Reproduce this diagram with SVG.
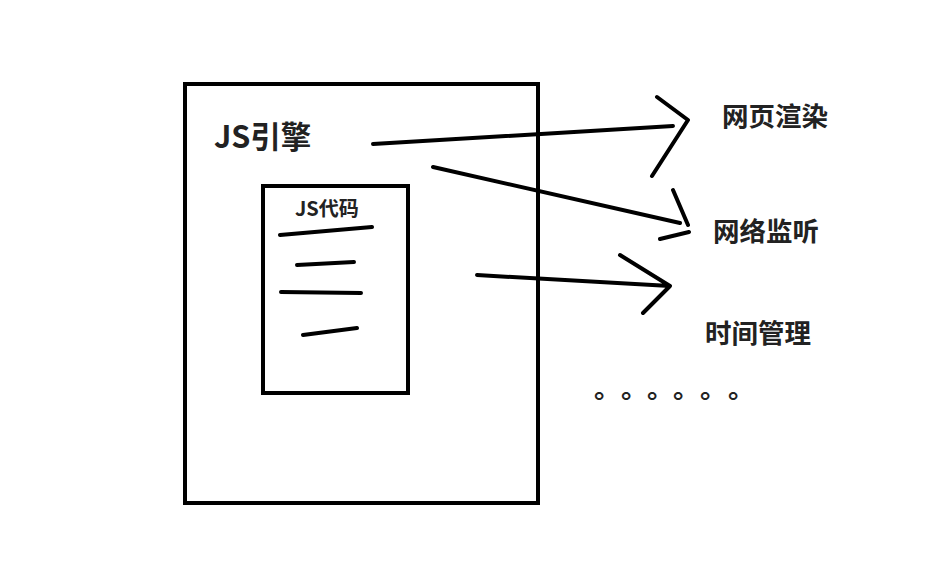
<svg xmlns="http://www.w3.org/2000/svg" width="931" height="563" viewBox="0 0 931 563">
<style>
.box{fill:none;stroke:#000;stroke-width:4}
.ln{fill:none;stroke:#000;stroke-width:4;stroke-linecap:round;stroke-linejoin:round}
.t{font-family:"Noto Sans CJK SC","Noto Sans",sans-serif;font-weight:bold;fill:#222}
</style>
<rect width="931" height="563" fill="#fff"/>
<g id="engine">
<rect class="box" x="185" y="84" width="353" height="419"/>
<text class="t" x="214" y="148" font-size="30.5">JS引擎</text>
</g>
<g id="code">
<rect class="box" x="263" y="186" width="145" height="207"/>
<text class="t" x="295" y="216" font-size="20">JS代码</text>
<path class="ln" d="M280 235L372 227M297 265L354 262M281 292L361 293M303 335L357 328"/>
</g>
<g id="render"><text class="t" x="722" y="126" font-size="26.5">网页渲染</text></g>
<g id="network"><text class="t" x="713" y="241" font-size="26.5">网络监听</text></g>
<g id="time"><text class="t" x="705" y="343" font-size="26.5">时间管理</text></g>
<g id="more"><text class="t" x="594 621 647 673 700 728" y="398" font-size="26.7" font-weight="normal">。。。。。。</text></g>
<g id="connectors">
<path class="ln" d="M373 144L673 126M657 97L688 120L652 176"/>
<path class="ln" d="M433 167L680 223M673 190L688 225M660 239L689 232"/>
<path class="ln" d="M477 275L670 286M620 255L670 286L643 313"/>
</g>
</svg>
